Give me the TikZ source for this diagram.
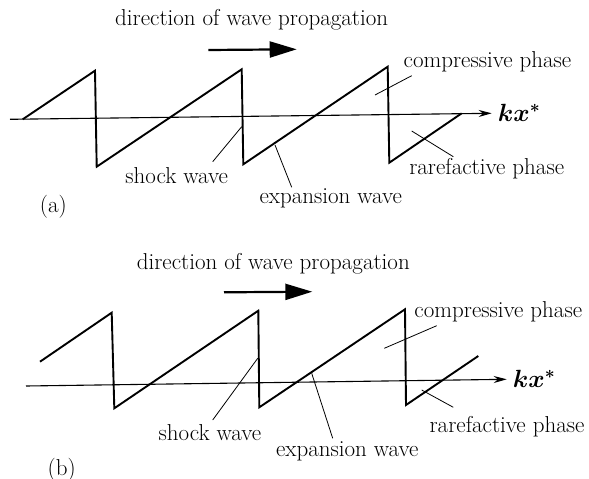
\documentclass[tikz,border=0pt]{standalone}
\usepackage{amsmath,amssymb}
\usepackage{bm}
\usetikzlibrary{arrows.meta,positioning}

\begin{document}
\begin{tikzpicture}[x=1pt,y=-1pt,>=Stealth,
  every node/.style={font=\fontsize{23}{27}\selectfont, inner sep=0pt},
  wave/.style={line width=1.9pt, line join=miter},
  axis/.style={line width=1.1pt, -{Stealth[length=13pt,width=7pt]}},
  leader/.style={line width=0.8pt},
  bigarrow/.style={line width=2.2pt, -{Triangle[length=27pt,width=16pt]}}]
\useasboundingbox (0,0) rectangle (589,479);

% ---- panel (a)
\node (a-title) at (251.7,20) {direction of wave propagation};
\coordinate (a-dir0) at (208.3,50);
\coordinate (a-dir1) at (296.7,49.3);
\draw[bigarrow] (a-dir0) -- (a-dir1);
\coordinate (a-ax0) at (10,119.3);
\coordinate (a-ax1) at (491.7,113.3);
\draw[axis] (a-ax0) -- (a-ax1);
\node[right=6pt of a-ax1] (a-kx) {$\bm{kx^*}$};
\draw[wave] (22.7,119.3) -- (95,70.7) -- (96.7,166.7) -- (241.7,69.3) -- (243.3,164.3)
  -- (387.7,66.7) -- (389.3,162.7) -- (461.7,113.3);
\node (a-comp)  at (487.5,61.7) {compressive phase};
\node (a-rare)  at (486.7,169)  {rarefactive phase};
\node (a-shock) at (176.7,176)  {shock wave};
\node (a-exp)   at (330.8,198)  {expansion wave};
\node (a-lab)   at (53.3,206.7) {(a)};
\coordinate (a-c0) at (375,95);     \coordinate (a-c1) at (411.7,75.7);
\coordinate (a-r0) at (411.7,131);  \coordinate (a-r1) at (453.3,156.7);
\coordinate (a-s0) at (241.7,126.7);\coordinate (a-s1) at (212.7,161.7);
\coordinate (a-e0) at (275,145);    \coordinate (a-e1) at (291.7,187.3);
\foreach \p in {c,r,s,e}
  \draw[leader] (a-\p0) -- (a-\p1);

% ---- panel (b)
\node (b-title) at (273.3,263.3) {direction of wave propagation};
\coordinate (b-dir0) at (224,292.3);
\coordinate (b-dir1) at (312.3,291.7);
\draw[bigarrow] (b-dir0) -- (b-dir1);
\coordinate (b-ax0) at (26,386);
\coordinate (b-ax1) at (506.7,379.3);
\draw[axis] (b-ax0) -- (b-ax1);
\node[right=6pt of b-ax1] (b-kx) {$\bm{kx^*}$};
\draw[wave] (40,361.7) -- (111.7,312.7) -- (114.3,408.3) -- (258.3,310.7) -- (259.3,407.3)
  -- (405,309.3) -- (406,405) -- (478.3,356);
\node (b-comp)  at (498.3,311.7) {compressive phase};
\node (b-rare)  at (507,426.7)   {rarefactive phase};
\node (b-shock) at (210,433)     {shock wave};
\node (b-exp)   at (347.3,451.7) {expansion wave};
\node (b-lab)   at (61.7,470)    {(b)};
\coordinate (b-c0) at (384.3,348.3);\coordinate (b-c1) at (436.7,325.7);
\coordinate (b-r0) at (421.7,390);  \coordinate (b-r1) at (453.3,407.3);
\coordinate (b-s0) at (257.7,358.3);\coordinate (b-s1) at (212.7,420);
\coordinate (b-e0) at (311.7,373.3);\coordinate (b-e1) at (332.7,438.3);
\foreach \p in {c,r,s,e}
  \draw[leader] (b-\p0) -- (b-\p1);
\end{tikzpicture}
\end{document}
